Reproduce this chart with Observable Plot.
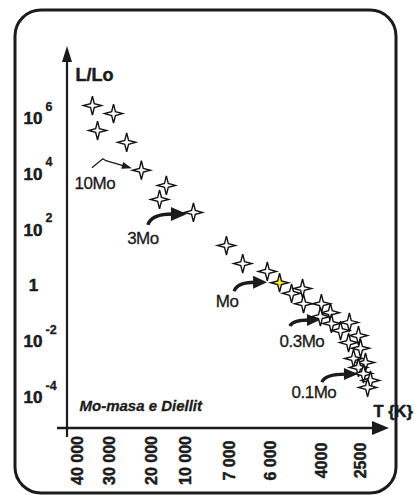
<!DOCTYPE html>
<html>
<head>
<meta charset="utf-8">
<script src="https://cdn.jsdelivr.net/npm/d3@7"></script>
<script src="https://cdn.jsdelivr.net/npm/@observablehq/plot@0.6"></script>
<style>
html, body { margin: 0; padding: 0; background: #fff; }
#chart { width: 414px; height: 495px; }
</style>
</head>
<body>
<div id="chart"></div>
<script>
// ---- data ----
const xTickValues = [40000, 30000, 20000, 10000, 7000, 6000, 4000, 2500];
const xTickLabels = ["40 000", "30 000", "20 000", "10 000", "7 000", "6 000", "4000", "2500"];
const yTickValues = [1e6, 1e4, 1e2, 1, 1e-2, 1e-4];
const yTickBase = ["10", "10", "10", "1", "10", "10"];
const yTickExp = ["6", "4", "2", "", "-2", "-4"];

const starT = [36900, 30300, 35300, 27100, 23600, 17100, 19100, 9800, 7550, 6800, 6200, 5840,
               5370, 4940, 4900, 4200, 3850, 4240, 3810, 3120, 3460, 2770, 3150, 2690, 2960,
               2500, 2770, 2580, 2310, 2420];
const starL = [2.9e6, 1.5e6, 3.7e5, 1.4e5, 1.4e4, 4.0e3, 1.26e3, 430, 28, 6.3, 3.3, 1.3,
               0.54, 0.81, 0.23, 0.23, 0.11, 0.079, 0.045, 0.049, 0.025, 0.0166, 0.0093, 0.0058, 0.0025,
               0.0018, 0.0012, 7.2e-4, 4.1e-4, 2.3e-4];
const sunIndex = 11;

const annText = ["10Mo", "3Mo", "Mo", "0.3Mo", "0.1Mo"];
const annStar = [4, 7, 11, 18, 27];

const yTitle = "L/Lo";
const xTitle = "T {K}";
const note = "Mo-masa e Diellit";

// ---- drawing ----
const ink = "#1b1b1b";
const FONT = "'Liberation Sans', Arial, Helvetica, sans-serif";
const heavy = {fontWeight: "bold", fill: ink, stroke: ink, strokeWidth: 0.5};

// schematic (non-uniform) temperature axis: piecewise mapping of the tick temperatures
const tempAxis = d3.scaleLinear().domain(xTickValues).range([82, 114, 156, 190, 234, 275, 326, 365]);

const star4 = {
  draw(ctx, size) {
    const R = Math.sqrt(size / Math.PI);
    const w = R * 0.21;
    ctx.moveTo(0, -R * 1.05);
    ctx.lineTo(w, -w);
    ctx.lineTo(R, 0);
    ctx.lineTo(w, w);
    ctx.lineTo(0, R * 1.05);
    ctx.lineTo(-w, w);
    ctx.lineTo(-R, 0);
    ctx.lineTo(-w, -w);
    ctx.closePath();
  }
};

function frameAndAxes(index, scales, values, dim) {
  const {width, height, marginLeft: ml, marginTop: mt, marginRight: mr, marginBottom: mb} = dim;
  const g = d3.create("svg:g");
  g.append("rect")
    .attr("x", 15).attr("y", 10)
    .attr("width", width - 18 - 15).attr("height", height - 2 - 10)
    .attr("rx", 26).attr("ry", 26)
    .attr("fill", "none").attr("stroke", ink).attr("stroke-width", 3);
  const yb = height - mb;
  g.append("line").attr("x1", ml).attr("x2", ml).attr("y1", mt + 12).attr("y2", yb + 9)
    .attr("stroke", ink).attr("stroke-width", 2.2);
  g.append("path").attr("d", `M${ml},${mt - 1}L${ml - 5},${mt + 15}L${ml + 5},${mt + 15}Z`).attr("fill", ink);
  const xe = width - mr;
  g.append("line").attr("x1", ml - 10).attr("x2", xe - 14).attr("y1", yb).attr("y2", yb)
    .attr("stroke", ink).attr("stroke-width", 2.6);
  g.append("path").attr("d", `M${xe},${yb}L${xe - 17},${yb - 7}L${xe - 17},${yb + 7}Z`).attr("fill", ink);
  return g.node();
}

const annGeom = [
  {label: [-46, 13], thin: [[-49, -2], [-38, -11], [-35, -9], [-11, -2]]},
  {label: [-50, 26], start: [-45, 13], tip: [-6, 2], head: 16, hw: 7},
  {label: [-52, 19], start: [-45, 9], tip: [-12, 0], head: 14, hw: 6.5},
  {label: [-29, 18], start: [-41, 3], tip: [-11, -3], head: 13, hw: 6},
  {label: [-49, 19], start: [-41, 9], tip: [-5, 1], head: 14, hw: 6}
];

function annotations(index, scales) {
  const g = d3.create("svg:g");
  annText.forEach((txt, k) => {
    const s = annStar[k];
    const px = scales.x(tempAxis(starT[s])), py = scales.y(starL[s]);
    const G = annGeom[k];
    if (G.thin) {
      const p = G.thin.map(([dx, dy]) => [px + dx, py + dy]);
      g.append("path").attr("d", "M" + p.map(q => q.join(",")).join("L"))
        .attr("fill", "none").attr("stroke", ink).attr("stroke-width", 1.3);
      const [a, b] = [p[p.length - 2], p[p.length - 1]];
      const ang = Math.atan2(b[1] - a[1], b[0] - a[0]);
      const L = 8, W = 3.5;
      const bx = b[0] - L * Math.cos(ang), by = b[1] - L * Math.sin(ang);
      const nx = -Math.sin(ang) * W, ny = Math.cos(ang) * W;
      g.append("path").attr("d", `M${b[0] + 2 * Math.cos(ang)},${b[1] + 2 * Math.sin(ang)}L${bx + nx},${by + ny}L${bx - nx},${by - ny}Z`).attr("fill", ink);
    } else {
      const sx = px + G.start[0], sy = py + G.start[1];
      const tx = px + G.tip[0], ty = py + G.tip[1];
      const bx = tx - G.head;
      g.append("path").attr("d", `M${sx},${sy}Q${sx + 3},${ty} ${bx + 2},${ty}`)
        .attr("fill", "none").attr("stroke", ink).attr("stroke-width", 3.4);
      g.append("path").attr("d", `M${tx},${ty}L${bx},${ty - G.hw}L${bx},${ty + G.hw}Z`).attr("fill", ink);
    }
    g.append("text").attr("x", px + G.label[0]).attr("y", py + G.label[1])
      .attr("dy", "0.36em").attr("text-anchor", "middle")
      .attr("font-size", 17).attr("fill", ink).attr("font-family", FONT)
      .attr("stroke", ink).attr("stroke-width", 0.3)
      .style("letter-spacing", "-0.5px")
      .text(txt);
  });
  return g.node();
}

const idx = starT.map((_, i) => i);
const yIdx = yTickValues.map((_, i) => i);

const chart = Plot.plot({
  width: 414,
  height: 495,
  marginLeft: 67,
  marginRight: 25,
  marginTop: 47,
  marginBottom: 67,
  style: {fontFamily: FONT, background: "#fff", color: ink, overflow: "visible"},
  x: {axis: null, type: "linear", transform: tempAxis, domain: [67, 389], range: [67, 389]},
  y: {axis: null, type: "log", domain: [1e-4, 1e6], range: [397, 118]},
  color: {type: "identity"},
  marks: [
    frameAndAxes,
    Plot.text(xTickLabels, {
      x: (d, i) => xTickValues[i], text: d => d, frameAnchor: "bottom", dy: 32,
      rotate: -90, fontSize: 16, letterSpacing: "-0.3px", ...heavy
    }),
    Plot.text(yIdx.filter(i => yTickExp[i] !== ""), {
      y: i => yTickValues[i], text: i => yTickBase[i], frameAnchor: "left", dx: -44,
      textAnchor: "start", fontSize: 17, ...heavy
    }),
    Plot.text(yIdx.filter(i => yTickExp[i] === ""), {
      y: i => yTickValues[i], text: i => yTickBase[i], frameAnchor: "left", dx: -34,
      textAnchor: "middle", fontSize: 17, ...heavy
    }),
    Plot.text(yIdx.filter(i => yTickExp[i] !== ""), {
      y: i => yTickValues[i], text: i => yTickExp[i], frameAnchor: "left", dx: -22, dy: -12,
      textAnchor: "start", fontSize: 12.5, ...heavy, strokeWidth: 0.3
    }),
    Plot.text([yTitle], {text: d => d, frameAnchor: "top-left", dx: 8, dy: 21, textAnchor: "start",
      fontSize: 18, letterSpacing: "-0.6px", ...heavy}),
    Plot.text([xTitle], {text: d => d, frameAnchor: "bottom-right", dx: -16, dy: -12, textAnchor: "start",
      fontSize: 16.5, letterSpacing: "-0.8px", ...heavy}),
    Plot.text([note], {text: d => d, frameAnchor: "bottom-left", dx: 12, dy: -18, textAnchor: "start",
      fontSize: 15, fontStyle: "italic", ...heavy, strokeWidth: 0.3}),
    annotations,
    Plot.dot(idx, {
      x: i => starT[i], y: i => starL[i], r: 9, symbol: star4,
      fill: i => (i === sunIndex ? "#f5ee3a" : "#ffffff"), stroke: "#111", strokeWidth: 1.4
    })
  ]
});

document.getElementById("chart").appendChild(chart);
</script>
</body>
</html>
